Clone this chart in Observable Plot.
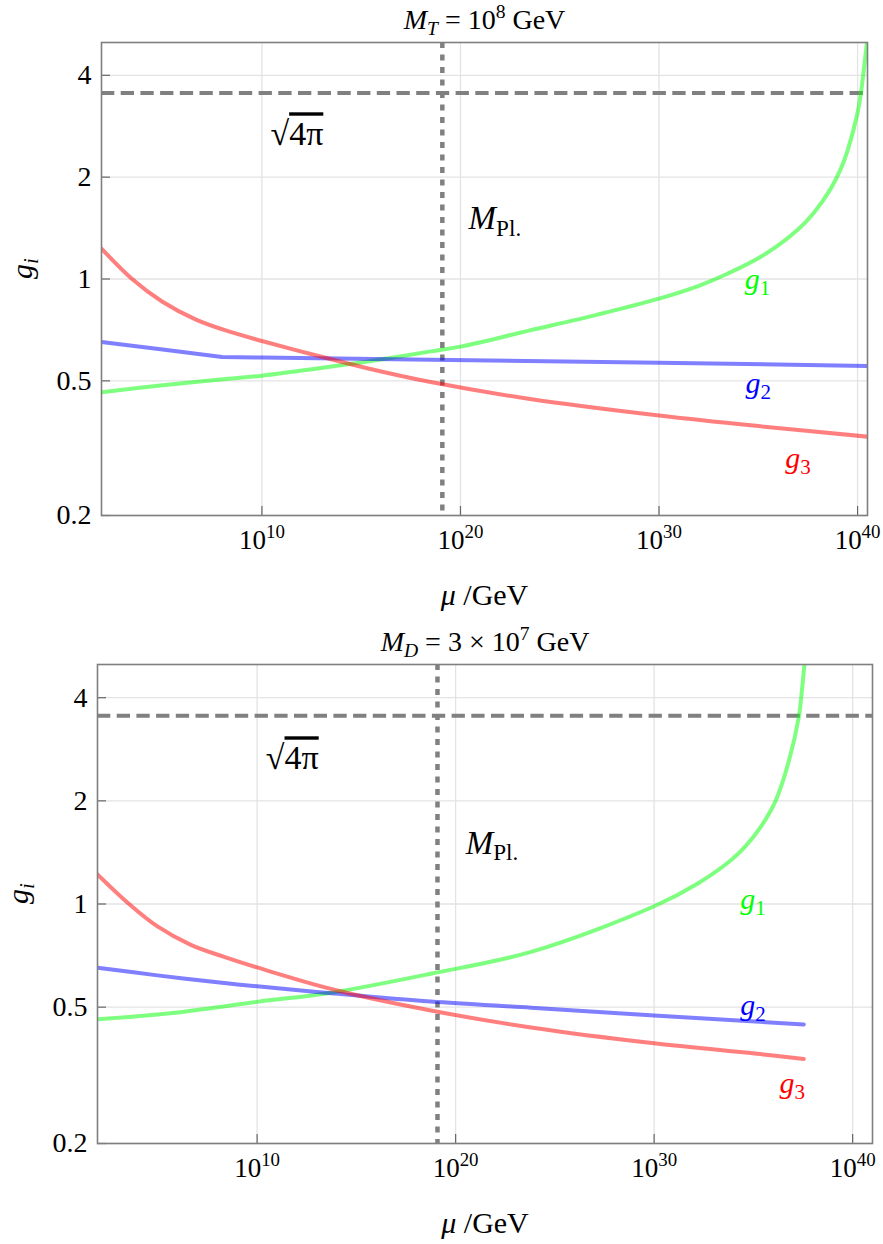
<!DOCTYPE html>
<html><head><meta charset="utf-8">
<script src="https://cdn.jsdelivr.net/npm/d3@7"></script>
<script src="https://cdn.jsdelivr.net/npm/@observablehq/plot@0.6"></script>
<style>
body{margin:0;background:#fff;}
#chart svg{display:block;}
#chart svg, #chart svg text, #chart svg tspan{font-family:"Liberation Serif", serif !important;}
</style></head><body><div id="chart"></div>
<script>
// ---------- data (exponents of mu/GeV, coupling values) ----------
// Panel 1: M_T = 1e8 GeV
const p1_g1_logMu = [1.92, 5.0, 7.9, 10, 13.6, 15.8, 18.5, 20, 23.5, 26.9, 30, 32, 33.5, 35.3, 37.0, 37.8, 38.65, 39.16, 39.5, 40.0, 40.17, 40.47];
const p1_g1 =       [0.463, 0.485, 0.505, 0.518, 0.552, 0.576, 0.611, 0.631, 0.705, 0.785, 0.875, 0.955, 1.04, 1.18, 1.40, 1.57, 1.85, 2.12, 2.40, 3.10, 3.55, 5.0];
const p1_g2_logMu = [1.92, 5.0, 7.99, 10, 19.5, 30, 40.5];
const p1_g2 =       [0.651, 0.619, 0.588, 0.586, 0.576, 0.566, 0.553];
const p1_g3_logMu = [1.92, 3.46, 4.97, 6.65, 8.33, 10, 12.95, 15.3, 18.5, 23.5, 30, 35.3, 40.5];
const p1_g3 =       [1.23, 1.0, 0.858, 0.760, 0.700, 0.656, 0.590, 0.545, 0.496, 0.442, 0.395, 0.366, 0.342];

// Panel 2: M_D = 3e7 GeV
const p2_g1_logMu = [1.96, 5.49, 10, 13.88, 18.75, 23.8, 30, 32.18, 33.85, 34.61, 35.36, 36.12, 36.79, 37.29, 37.46, 37.57];
const p2_g1 =       [0.461, 0.479, 0.518, 0.553, 0.626, 0.725, 0.985, 1.146, 1.339, 1.475, 1.675, 2.0, 2.62, 3.52, 4.29, 4.99];
const p2_g2_logMu = [1.96, 4.98, 8.34, 10, 13.88, 18.75, 23.8, 30, 37.54];
const p2_g2 =       [0.652, 0.619, 0.588, 0.575, 0.548, 0.519, 0.498, 0.473, 0.445];
const p2_g3_logMu = [1.96, 3.55, 4.98, 6.66, 8.34, 10, 13.88, 18.75, 23.8, 30, 35.5, 37.54];
const p2_g3 =       [1.22, 1.0, 0.860, 0.760, 0.701, 0.653, 0.562, 0.489, 0.436, 0.392, 0.364, 0.353];

const xTickExps = [10, 20, 30, 40];
const yTicks = [0.2, 0.5, 1, 2, 4];
const sqrt4pi = Math.sqrt(4 * Math.PI);
const M_Pl = 1.22e19;

const titles = ["<i>M</i><sub><i>T</i></sub> = 10<sup>8</sup> GeV",
                "<i>M</i><sub><i>D</i></sub> = 3 × 10<sup>7</sup> GeV"];
const seriesNames = ["<i>g</i><sub>1</sub>", "<i>g</i><sub>2</sub>", "<i>g</i><sub>3</sub>"];
const seriesColors = ["#00ff00", "#0000ff", "#ff0000"];
// annotation anchors (exponent of mu, g)
const p1_labels_logMu = [34.96, 35.0, 37.0];
const p1_labels_g =     [1.0, 0.49, 0.294];
const p2_labels_logMu = [34.98, 34.98, 36.96];
const p2_labels_g =     [1.031, 0.506, 0.299];
const p1_sqrt_pos = [10.43, 2.675], p1_mpl_pos = [20.41, 1.506];
const p2_sqrt_pos = [10.44, 2.66],  p2_mpl_pos = [20.51, 1.505];

// ---------- helpers ----------
const FONT = "Liberation Serif";
function rows(logMu, vals) { return logMu.map((L, i) => ({mu: 10 ** L, g: vals[i]})); }

function richify(svg) {
  svg.querySelectorAll("text").forEach(t => {
    const s = t.textContent;
    if (!s.includes("<")) return;
    const fs = parseFloat(getComputedStyle(t).fontSize) || 16;
    while (t.firstChild) t.removeChild(t.firstChild);
    t.style.whiteSpace = "pre";
    const parts = s.split(/(<\/?(?:i|sub|sup|o)>)/).filter(p => p !== "");
    const st = {i: false, sub: false, sup: false, o: false};
    let cur = 0;
    for (const p of parts) {
      const m = p.match(/^<(\/?)(i|sub|sup|o)>$/);
      if (m) { st[m[2]] = !m[1]; continue; }
      const ts = document.createElementNS("http://www.w3.org/2000/svg", "tspan");
      const target = st.sub ? 0.2 * fs : st.sup ? -0.4 * fs : 0;
      if (target !== cur) { ts.setAttribute("dy", target - cur); cur = target; }
      if (st.i) ts.setAttribute("font-style", "italic");
      if (st.sub || st.sup) ts.setAttribute("font-size", 0.7 * fs);
      if (st.o) ts.setAttribute("text-decoration", "overline");
      ts.textContent = p;
      t.appendChild(ts);
    }
  });
}

function panel(cfg) {
  const W = 883;
  const frameW = W - cfg.ml - cfg.mr;
  const frameH = cfg.height - cfg.mt - cfg.mb;
  const xTicks = xTickExps.map(e => 10 ** e);
  const labelRows = cfg.labLog.map((L, i) => ({mu: 10 ** L, g: cfg.labG[i], t: seriesNames[i], c: seriesColors[i]}));
  const lineOpts = (c, curve) => ({x: "mu", y: "g", stroke: c, strokeOpacity: 0.5, strokeWidth: 4, curve, clip: true});
  return Plot.plot({
    width: W, height: cfg.height,
    marginTop: cfg.mt, marginBottom: cfg.mb, marginLeft: cfg.ml, marginRight: cfg.mr,
    style: {fontFamily: FONT, color: "black", background: "white"},
    x: {type: "log", domain: [10 ** cfg.xd[0], 10 ** cfg.xd[1]]},
    y: {type: "log", domain: [0.2, 5]},
    marks: [
      Plot.gridX(xTicks, {stroke: "#e3e3e3", strokeOpacity: 1, strokeWidth: 1.3}),
      Plot.gridY(yTicks, {stroke: "#e3e3e3", strokeOpacity: 1, strokeWidth: 1.3}),
      Plot.ruleX(xTicks, {stroke: "#666", strokeWidth: 1.2, insetTop: frameH - 9}),
      Plot.ruleY(yTicks, {stroke: "#666", strokeWidth: 1.2, insetRight: frameW - 9}),
      Plot.axisX({ticks: xTicks, tickSize: 0, tickPadding: 14, fontSize: 27, label: null,
        tickFormat: d => "10<sup>" + Math.round(Math.log10(d)) + "</sup>"}),
      Plot.axisY({ticks: yTicks, tickSize: 0, tickPadding: 10, fontSize: 28, label: null,
        tickFormat: d => String(d)}),
      Plot.ruleY([sqrt4pi], {stroke: "#808080", strokeWidth: 4, strokeDasharray: "13.3,6.4"}),
      Plot.ruleX([M_Pl], {stroke: "#808080", strokeWidth: 4.5, strokeDasharray: "6,6.5"}),
      Plot.line(cfg.g1, lineOpts(seriesColors[0], "catmull-rom")),
      Plot.line(cfg.g2, lineOpts(seriesColors[1], cfg.g2curve)),
      Plot.line(cfg.g3, lineOpts(seriesColors[2], "catmull-rom")),
      Plot.frame({stroke: "#7f7f7f", strokeWidth: 1.6}),
      Plot.text(labelRows, {x: "mu", y: "g", text: "t", fill: "c", fontSize: 30, textAnchor: "middle", lineAnchor: "middle"}),
      Plot.text([{mu: 10 ** cfg.sqrtPos[0], g: cfg.sqrtPos[1]}], {x: "mu", y: "g", text: () => "√<o>4π</o>", fontSize: 34, textAnchor: "start", lineAnchor: "middle"}),
      Plot.text([{mu: 10 ** cfg.mplPos[0], g: cfg.mplPos[1]}], {x: "mu", y: "g", text: () => "<i>M</i><sub>Pl.</sub>", fontSize: 33, textAnchor: "start", lineAnchor: "middle"}),
      Plot.text([cfg.title], {frameAnchor: "top", dy: cfg.titleDy, fontSize: 28, lineAnchor: "middle"}),
      Plot.text(["<i>μ</i> /GeV"], {frameAnchor: "bottom", dy: 80, fontSize: 30, lineAnchor: "middle"}),
      Plot.text(["<i>g</i><sub><i>i</i></sub>"], {frameAnchor: "left", dx: -79, rotate: -90, fontSize: 30, lineAnchor: "middle"})
    ]
  });
}

const chart = document.getElementById("chart");
const s1 = panel({height: 620, mt: 42, mb: 105, ml: 101, mr: 16, xd: [1.92, 40.5],
  g1: rows(p1_g1_logMu, p1_g1), g2: rows(p1_g2_logMu, p1_g2), g3: rows(p1_g3_logMu, p1_g3), g2curve: "linear",
  labLog: p1_labels_logMu, labG: p1_labels_g, sqrtPos: p1_sqrt_pos, mplPos: p1_mpl_pos,
  title: titles[0], titleDy: -22});
const s2 = panel({height: 624, mt: 44, mb: 101, ml: 97, mr: 11, xd: [1.96, 41.0],
  g1: rows(p2_g1_logMu, p2_g1), g2: rows(p2_g2_logMu, p2_g2), g3: rows(p2_g3_logMu, p2_g3), g2curve: "catmull-rom",
  labLog: p2_labels_logMu, labG: p2_labels_g, sqrtPos: p2_sqrt_pos, mplPos: p2_mpl_pos,
  title: titles[1], titleDy: -22});
chart.appendChild(s1);
chart.appendChild(s2);
richify(s1);
richify(s2);
</script>
</body></html>
